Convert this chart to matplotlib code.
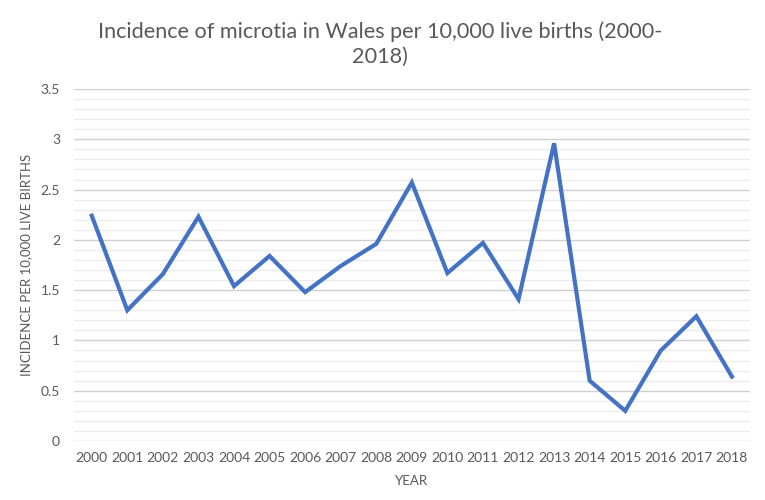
import matplotlib
matplotlib.use("Agg")
import matplotlib.pyplot as plt
from matplotlib.ticker import MultipleLocator

years = [str(y) for y in range(2000, 2019)]
incidence = [2.24, 1.30, 1.66, 2.23, 1.54, 1.84, 1.48, 1.74, 1.96, 2.57,
             1.67, 1.97, 1.41, 2.96, 0.60, 0.30, 0.90, 1.24, 0.64]
y_ticks = [0, 0.5, 1, 1.5, 2, 2.5, 3, 3.5]
y_tick_labels = ["0", "0.5", "1", "1.5", "2", "2.5", "3", "3.5"]

plt.rcParams['font.family'] = ['Lato', 'DejaVu Sans']
txt = '#595959'

fig = plt.figure(figsize=(7.65, 5.0), dpi=100)
ax = fig.add_axes([0.0967, 0.118, 0.8833, 0.704])

x = list(range(len(years)))
ax.plot(x, incidence, color='#4472C4', linewidth=3.0, solid_joinstyle='miter', zorder=3)

ax.set_xlim(-0.5, len(years) - 0.5)
ax.set_ylim(0, 3.5)
ax.set_xticks(x)
ax.set_xticklabels(years)
ax.set_yticks(y_ticks)
ax.set_yticklabels(y_tick_labels)
ax.yaxis.set_minor_locator(MultipleLocator(0.1))
ax.grid(axis='y', which='major', color='#d0d0d0', linewidth=1.0, zorder=0)
ax.grid(axis='y', which='minor', color='#ececec', linewidth=1.0, zorder=0)
ax.tick_params(axis='both', which='both', length=0, colors=txt, labelsize=10)
ax.tick_params(axis='x', pad=8)
ax.tick_params(axis='y', pad=10)
for s in ax.spines.values():
    s.set_visible(False)

ax.set_xlabel('YEAR', color=txt, fontsize=9.5, labelpad=8)
ax.set_ylabel('INCIDENCE PER 10,000 LIVE BIRTHS', color=txt, fontsize=9.5, labelpad=6)

fig.text(0.497, 0.912, 'Incidence of microtia in Wales per 10,000 live births (2000-\n2018)',
         ha='center', va='center', color=txt, fontsize=15.6, linespacing=1.33)

fig.savefig('out.png', dpi=100)
